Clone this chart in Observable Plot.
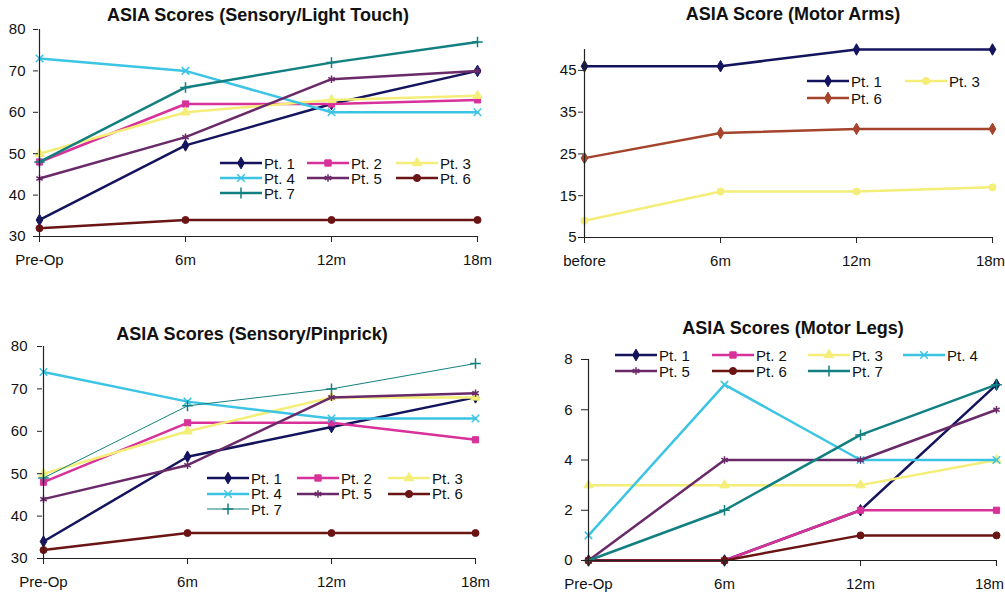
<!DOCTYPE html>
<html>
<head>
<meta charset="utf-8">
<script src="https://cdn.jsdelivr.net/npm/d3@7"></script>
<script src="https://cdn.jsdelivr.net/npm/@observablehq/plot@0.6"></script>
<style>
  html, body { margin: 0; padding: 0; background: #fff; }
  #root { position: relative; width: 1005px; height: 594px; overflow: hidden; font-family: "Liberation Sans", Arial, sans-serif; }
  .panel { position: absolute; }
  .title { position: absolute; font-weight: bold; font-size: 18px; color: #111; white-space: nowrap; transform: translateX(-50%); }
  .item { position: absolute; display: flex; align-items: center; white-space: nowrap; height: 16px; color: #111; }
  .item svg { display: block; }
</style>
</head>
<body>
<div id="root"></div>
<script>
// ---- data ----
const catsOp = ["Pre-Op", "6m", "12m", "18m"];
const catsArms = ["before", "6m", "12m", "18m"];
const patients = ["Pt. 1", "Pt. 2", "Pt. 3", "Pt. 4", "Pt. 5", "Pt. 6", "Pt. 7"];
const symbols = ["diamond", "square", "triangle", "times", "asterisk", "circle", "plus"];
const colors = ["#14145e", "#d8329a", "#f4ee78", "#3cc4e4", "#6a2a6a", "#6a1414", "#128080"];

const lightTouch = [
  [34, 52, 62, 70],
  [48, 62, 62, 63],
  [50, 60, 63, 64],
  [73, 70, 60, 60],
  [44, 54, 68, 70],
  [32, 34, 34, 34],
  [48, 66, 72, 77]
];
const motorArmsPatients = ["Pt. 1", "Pt. 3", "Pt. 6"];
const motorArmsColors = ["#14145e", "#f4ee78", "#a4442c"];
const motorArmsSymbols = ["diamond", "circle", "diamond"];
const motorArms = [
  [46, 46, 50, 50],
  [9, 16, 16, 17],
  [24, 30, 31, 31]
];
const pinprick = [
  [34, 54, 61, 68],
  [48, 62, 62, 58],
  [50, 60, 68, 68],
  [74, 67, 63, 63],
  [44, 52, 68, 69],
  [32, 36, 36, 36],
  [49, 66, 70, 76]
];
const motorLegs = [
  [0, 0, 2, 7],
  [0, 0, 2, 2],
  [3, 3, 3, 4],
  [1, 7, 4, 4],
  [0, 4, 4, 6],
  [0, 0, 1, 1],
  [0, 2, 5, 7]
];

const root = document.getElementById("root");
const symMap = {diamond: d3.symbolDiamond, square: d3.symbolSquare, triangle: d3.symbolTriangle,
  times: d3.symbolTimes, asterisk: d3.symbolAsterisk, circle: d3.symbolCircle, plus: d3.symbolPlus};

function makePanel(cfg) {
  const marks = [];
  cfg.series.forEach((vals, i) => {
    const rows = vals.map((v, j) => ({x: cfg.cats[j], y: v}));
    const sw = cfg.widths ? cfg.widths[i] : 2.5;
    marks.push(Plot.line(rows, {x: "x", y: "y", stroke: cfg.colors[i], strokeWidth: sw}));
    const sym = cfg.symbols[i];
    const open = sym === "times" || sym === "asterisk" || sym === "plus";
    marks.push(Plot.dot(rows, {
      x: "x", y: "y", symbol: sym, r: cfg.r || 3.5,
      fill: open ? "none" : cfg.colors[i],
      stroke: cfg.colors[i], strokeWidth: open ? 1.5 : 1
    }));
  });
  const last = cfg.cats[cfg.cats.length - 1];
  const plot = Plot.plot({
    width: cfg.width, height: cfg.height,
    marginLeft: cfg.mL, marginRight: cfg.mR, marginTop: cfg.mT, marginBottom: cfg.mB,
    style: {fontFamily: "Liberation Sans, Arial, sans-serif", fontSize: "15px", color: "#111", background: "transparent", overflow: "visible"},
    x: {type: "point", domain: cfg.cats, padding: 0, axis: null},
    y: {domain: cfg.yDomain, axis: null},
    marks: [
      ...marks,
      Plot.ruleX([cfg.cats[0]], {stroke: "#222", strokeWidth: 1.2}),
      Plot.ruleY([cfg.yDomain[0]], {stroke: "#222", strokeWidth: 1.2}),
      Plot.axisY({ticks: cfg.yTicks, tickSize: cfg.yTickSize, tickPadding: cfg.yTickPad, stroke: "#222", fill: "#111", label: null, tickFormat: d => String(d)}),
      Plot.axisX({ticks: cfg.cats, tickSize: 6, text: null, stroke: "#222", label: null}),
      Plot.axisX({ticks: cfg.cats.slice(0, -1), tickSize: 0, tickPadding: 18, fill: "#111", label: null}),
      Plot.axisX({ticks: [last], tickSize: 0, tickPadding: 18, dx: cfg.lastDx || 0, fill: "#111", label: null})
    ]
  });
  const wrap = document.createElement("div");
  wrap.className = "panel";
  wrap.style.left = cfg.left + "px";
  wrap.style.top = cfg.top + "px";
  wrap.appendChild(plot);
  root.appendChild(wrap);

  const t = document.createElement("div");
  t.className = "title";
  t.textContent = cfg.title;
  t.style.left = cfg.titleX + "px";
  t.style.top = cfg.titleY + "px";
  root.appendChild(t);

  // legend
  cfg.legendNames.forEach((name, i) => {
    const col = i % cfg.legendCols, row = Math.floor(i / cfg.legendCols);
    const it = document.createElement("div");
    it.className = "item";
    it.style.left = cfg.legendX[col] + "px";
    it.style.top = (cfg.legendY + row * cfg.legendDY - 8) + "px";
    const lw = 42;
    const svg = d3.create("svg").attr("width", lw).attr("height", 16);
    const sw = cfg.widths ? cfg.widths[i] : 2.5;
    svg.append("line").attr("x1", 0).attr("x2", lw).attr("y1", 8).attr("y2", 8)
      .attr("stroke", cfg.colors[i]).attr("stroke-width", sw);
    const symName = cfg.symbols[i];
    const open = symName === "times" || symName === "asterisk" || symName === "plus";
    svg.append("path").attr("d", d3.symbol(symMap[symName], 40)())
      .attr("transform", `translate(${lw / 2},8)`)
      .attr("fill", open ? "none" : cfg.colors[i])
      .attr("stroke", cfg.colors[i]).attr("stroke-width", open ? 1.5 : 1);
    it.appendChild(svg.node());
    const sp = document.createElement("span");
    sp.textContent = name;
    sp.style.marginLeft = "2px";
    sp.style.fontSize = "15px";
    it.appendChild(sp);
    root.appendChild(it);
  });
}

makePanel({
  left: 0, top: 0, width: 500, height: 290, mL: 38, mR: 23, mT: 29, mB: 54,
  cats: catsOp, yDomain: [30, 80], yTicks: [30, 40, 50, 60, 70, 80], yTickSize: 5, yTickPad: 8,
  series: lightTouch, colors: colors, symbols: symbols,
  title: "ASIA Scores (Sensory/Light Touch)", titleX: 258, titleY: 5,
  legendNames: patients, legendCols: 3, legendX: [220, 307, 396], legendY: 163, legendDY: 15
});

makePanel({
  left: 500, top: 0, width: 505, height: 290, mL: 83, mR: 13, mT: 49, mB: 53,
  cats: catsArms, yDomain: [5, 50], yTicks: [5, 15, 25, 35, 45], yTickSize: 5, yTickPad: 2,
  series: motorArms, colors: motorArmsColors, symbols: motorArmsSymbols, lastDx: -2,
  title: "ASIA Score (Motor Arms)", titleX: 793, titleY: 4,
  legendNames: motorArmsPatients, legendCols: 2, legendX: [807, 905], legendY: 81, legendDY: 17
});

makePanel({
  left: 0, top: 290, width: 500, height: 304, mL: 42, mR: 25, mT: 56, mB: 36,
  cats: catsOp, yDomain: [30, 80], yTicks: [30, 40, 50, 60, 70, 80], yTickSize: 5, yTickPad: 10,
  series: pinprick, colors: colors, symbols: symbols, widths: [2.5, 2.5, 2.5, 2.5, 2.5, 2.5, 1],
  title: "ASIA Scores (Sensory/Pinprick)", titleX: 252, titleY: 324,
  legendNames: patients, legendCols: 3, legendX: [207, 297, 388], legendY: 478, legendDY: 15.5
});

makePanel({
  left: 500, top: 290, width: 505, height: 304, mL: 88, mR: 9, mT: 69, mB: 34,
  cats: catsOp, yDomain: [0, 8], yTicks: [0, 2, 4, 6, 8], yTickSize: 7, yTickPad: 9,
  series: motorLegs, colors: colors, symbols: symbols, lastDx: -7,
  title: "ASIA Scores (Motor Legs)", titleX: 793, titleY: 318,
  legendNames: patients, legendCols: 4, legendX: [615, 712, 808, 903], legendY: 355, legendDY: 16
});
</script>
</body>
</html>
